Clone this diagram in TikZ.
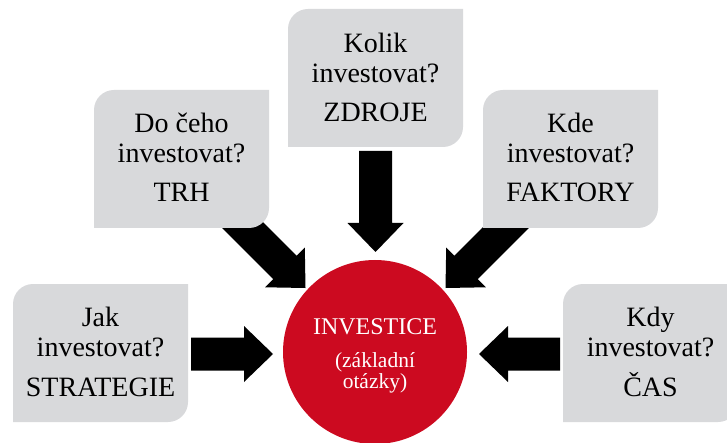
\documentclass[tikz,border=0pt]{standalone}
\usepackage{fontspec}
\setmainfont{Liberation Serif}
\usetikzlibrary{calc}

\pgfdeclarelayer{arrowlayer}
\pgfdeclarelayer{boxlayer}
\pgfsetlayers{arrowlayer,boxlayer,main}

\definecolor{boxgray}{RGB}{216,217,219}
\definecolor{invred}{RGB}{204,10,32}

\tikzset{
  qarea/.style={minimum width=175pt, minimum height=138pt, inner sep=0pt, outer sep=0pt},
  qtext/.style={anchor=base, align=center, inner sep=0pt,
                font=\fontsize{28}{30}\selectfont},
  core/.style={circle, fill=invred, minimum size=184pt, inner sep=0pt},
  coretitle/.style={anchor=base, text=white, inner sep=0pt,
                    font=\fontsize{24}{25}\selectfont},
  coresub/.style={anchor=base, align=center, text=white, inner sep=0pt,
                  font=\fontsize{21.5}{21}\selectfont},
  leaf/.style={fill=boxgray},
  fatarrow/.style={fill=black},
}

% question box fill: rounded at top-left and bottom-right only
\newcommand\leafbox[1]{%
  \fill[leaf] (#1.south west)
    -- ($(#1.north west)+(0,20)$) arc[start angle=180, end angle=90, radius=20pt]
    -- (#1.north east)
    -- ($(#1.south east)+(0,-20)$) arc[start angle=0, end angle=-90, radius=20pt]
    -- cycle;}

% block arrow from tail #1 to tip #2
\newcommand\blockarrow[2]{%
  \coordinate (#2-hb) at ($(#2)!29pt!(#1)$);
  \fill[fatarrow] ($(#1)!16.5pt!90:(#2)$)
    -- ($(#2-hb)!16.5pt!90:(#2)$)
    -- ($(#2-hb)!28pt!90:(#2)$)
    -- (#2)
    -- ($(#2-hb)!28pt!-90:(#2)$)
    -- ($(#2-hb)!16.5pt!-90:(#2)$)
    -- ($(#1)!16.5pt!-90:(#2)$) -- cycle;}

\begin{document}
\begin{tikzpicture}[x=1pt, y=-1pt]
  \useasboundingbox (0,0) rectangle (727,443);
  \clip (0,0) rectangle (727,443);

  % question areas
  \node[qarea] (trh)  at (181.5,159) {};
  \node[qarea] (zdr)  at (375.5,78)  {};
  \node[qarea] (fak)  at (570.5,159) {};
  \node[qarea] (str)  at (100.5,353) {};
  \node[qarea] (cas)  at (650.5,353) {};

  % the base anchor of a multi-line text is the baseline of its last line
  \node[qtext] (trh-q) at ($(trh.north)+(0,112)$) {Do čeho\\investovat?\\[9pt]TRH};
  \node[qtext] (zdr-q) at ($(zdr.north)+(0,113)$) {Kolik\\investovat?\\[9pt]ZDROJE};
  \node[qtext] (fak-q) at ($(fak.north)+(0,112)$) {Kde\\investovat?\\[9pt]FAKTORY};
  \node[qtext] (str-q) at ($(str.north)+(0,112)$) {Jak\\investovat?\\[10pt]STRATEGIE};
  \node[qtext] (cas-q) at ($(cas.north)+(0,112)$) {Kdy\\investovat?\\[10pt]ČAS};

  % central circle
  \node[core] (inv) at (375,352) {};
  \node[coretitle] (inv-t) at (375,334) {INVESTICE};
  \node[coresub] (inv-s) at (375,388) {(základní\\otázky)};

  \begin{pgfonlayer}{boxlayer}
    \leafbox{trh}
    \leafbox{zdr}
    \leafbox{fak}
    \leafbox{str}
    \leafbox{cas}
  \end{pgfonlayer}

  % arrow ends
  \coordinate (a1s) at (375.5,151);  \coordinate (a1e) at (375.5,252);
  \coordinate (a2s) at (225,207.5);  \coordinate (a2e) at (305.5,288);
  \coordinate (a3s) at (526,207.5);  \coordinate (a3e) at (445.5,288);
  \coordinate (a4s) at (191,354);    \coordinate (a4e) at (273,354);
  \coordinate (a5s) at (560,354);    \coordinate (a5e) at (479,354);

  \begin{pgfonlayer}{arrowlayer}
    \blockarrow{a1s}{a1e}
    \blockarrow{a2s}{a2e}
    \blockarrow{a3s}{a3e}
    \blockarrow{a4s}{a4e}
    \blockarrow{a5s}{a5e}
  \end{pgfonlayer}
\end{tikzpicture}
\end{document}
